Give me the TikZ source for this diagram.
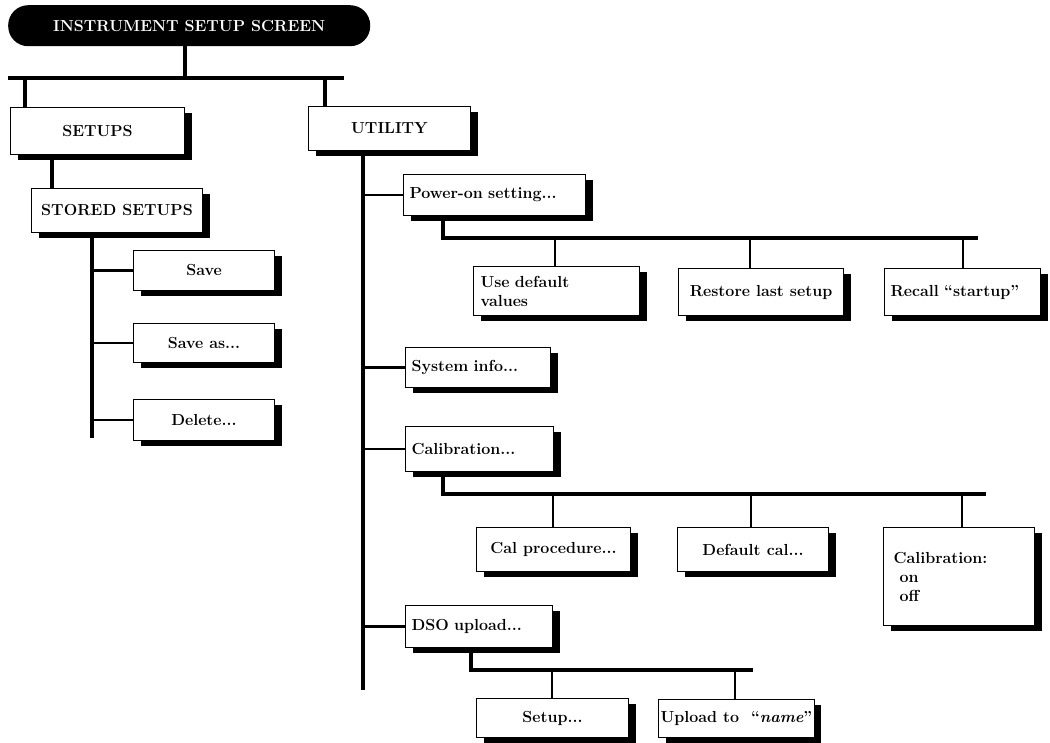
\documentclass[tikz,border=0pt]{standalone}
\usetikzlibrary{shadows}
\newcommand{\lblfont}{\fontsize{16}{19}\selectfont\bfseries}
\begin{document}
\begin{tikzpicture}[x=1pt,y=-1pt,
  box/.style={draw=black, line width=1pt, fill=white, font=\lblfont, inner sep=6pt,
    anchor=north west,
    drop shadow={shadow xshift=7pt, shadow yshift=-5pt, opacity=1, fill=black}},
  lbox/.style={box, align=left, text width=#1},
  trunk/.style={line width=3.5pt},
  branch/.style={line width=2.2pt},
  dropline/.style={line width=1.6pt}]
\useasboundingbox (0,0) rectangle (1050,742);
\fill[white] (0,0) rectangle (1050,742);

% title
\node[fill=black, rounded corners=20pt, minimum width=362pt, minimum height=41pt,
  anchor=north west, text=white, font=\fontsize{16}{18}\selectfont\bfseries] (title) at (8,5) {INSTRUMENT SETUP SCREEN};

% level 1
\node[box, minimum width=174pt, minimum height=47pt] (setups) at (10,107) {SETUPS};
\node[box, minimum width=162pt, minimum height=44pt] (utility) at (308,106) {UTILITY};

% setups branch
\node[box, minimum width=171pt, minimum height=44pt, inner sep=3pt] (stored) at (31,188) {STORED SETUPS};
\node[box, minimum width=141pt, minimum height=40pt] (save) at (133,250) {Save};
\node[box, minimum width=141pt, minimum height=39pt] (saveas) at (133,323) {Save as...};
\node[box, minimum width=141pt, minimum height=41pt] (delete) at (133,399) {Delete...};

% utility branch
\node[lbox=170pt, minimum height=41pt] (power) at (403,174) {Power-on setting...};
\node[lbox=152pt, minimum height=49pt, inner sep=7pt] (usedef) at (473,266) {Use default\\values};
\node[box, minimum width=165pt, minimum height=47pt, inner sep=3pt] (restore) at (678,268) {Restore last setup};
\node[lbox=144pt, minimum height=47pt] (recall) at (884,268) {Recall ``startup''};
\node[lbox=133pt, minimum height=40pt] (sysinfo) at (405,347) {System info...};
\node[lbox=136pt, minimum height=45pt] (calib) at (405,426) {Calibration...};
\node[box, minimum width=154pt, minimum height=44pt] (calproc) at (476,527) {Cal procedure...};
\node[box, minimum width=151pt, minimum height=44pt] (defcal) at (677,527) {Default cal...};
\node[lbox=139pt, minimum height=98pt] (calonoff) at (883,527) {\hspace*{4pt}Calibration:\\\hspace*{10pt}on\\\hspace*{10pt}off};
\node[lbox=135pt, minimum height=42pt] (dso) at (405,605) {DSO upload...};
\node[box, minimum width=152pt, minimum height=39pt] (setup) at (476,698) {Setup...};
\node[box, minimum width=154pt, minimum height=38pt, inner sep=2pt] (upload) at (658,699) {Upload to\ \ ``\textit{name}''};

% connectors: top
\coordinate (tb) at (185,78);
\coordinate (tbL) at (8,78);
\coordinate (tbR) at (344,78);
\coordinate (d1) at (25,78);
\coordinate (d2) at (325,78);
\draw[trunk] (tbL) -- (tbR);
\draw[trunk] (title.south -| tb) -- (tb);
\draw[trunk] (d1) -- (d1 |- setups.north);
\draw[trunk] (d2) -- (d2 |- utility.north);

% setups
\coordinate (s1) at (52,0);
\draw[trunk] (s1 |- setups.south) -- (s1 |- stored.north);
\coordinate (sv) at (92,438);
\draw[trunk] (sv |- stored.south) -- (sv);
\foreach \n in {save,saveas,delete} \draw[branch] (\n.west) -- (\n.west -| sv);

% utility
\coordinate (uv) at (363,690);
\draw[trunk] (uv |- utility.south) -- (uv);
\foreach \n in {power,sysinfo,calib,dso} \draw[branch] (\n.west) -- (\n.west -| uv);

% power-on
\coordinate (pbL) at (443,238);
\coordinate (pbR) at (978,238);
\draw[trunk, line join=miter] (pbL |- power.south) -- (pbL) -- (pbR);
\coordinate (p1) at (555,238);
\coordinate (p2) at (750,238);
\coordinate (p3) at (963,238);
\draw[dropline] (p1) -- (p1 |- usedef.north);
\draw[dropline] (p2) -- (p2 |- restore.north);
\draw[dropline] (p3) -- (p3 |- recall.north);

% calibration
\coordinate (cbL) at (443,494);
\coordinate (cbR) at (986,494);
\draw[trunk, line join=miter] (cbL |- calib.south) -- (cbL) -- (cbR);
\coordinate (c1) at (553,494);
\coordinate (c2) at (751,494);
\coordinate (c3) at (962,494);
\draw[dropline] (c1) -- (c1 |- calproc.north);
\draw[dropline] (c2) -- (c2 |- defcal.north);
\draw[dropline] (c3) -- (c3 |- calonoff.north);

% dso
\coordinate (dbL) at (471,670);
\coordinate (dbR) at (753,670);
\draw[trunk, line join=miter] (dbL |- dso.south) -- (dbL) -- (dbR);
\coordinate (e1) at (552,670);
\coordinate (e2) at (735,670);
\draw[dropline] (e1) -- (e1 |- setup.north);
\draw[dropline] (e2) -- (e2 |- upload.north);
\end{tikzpicture}
\end{document}
